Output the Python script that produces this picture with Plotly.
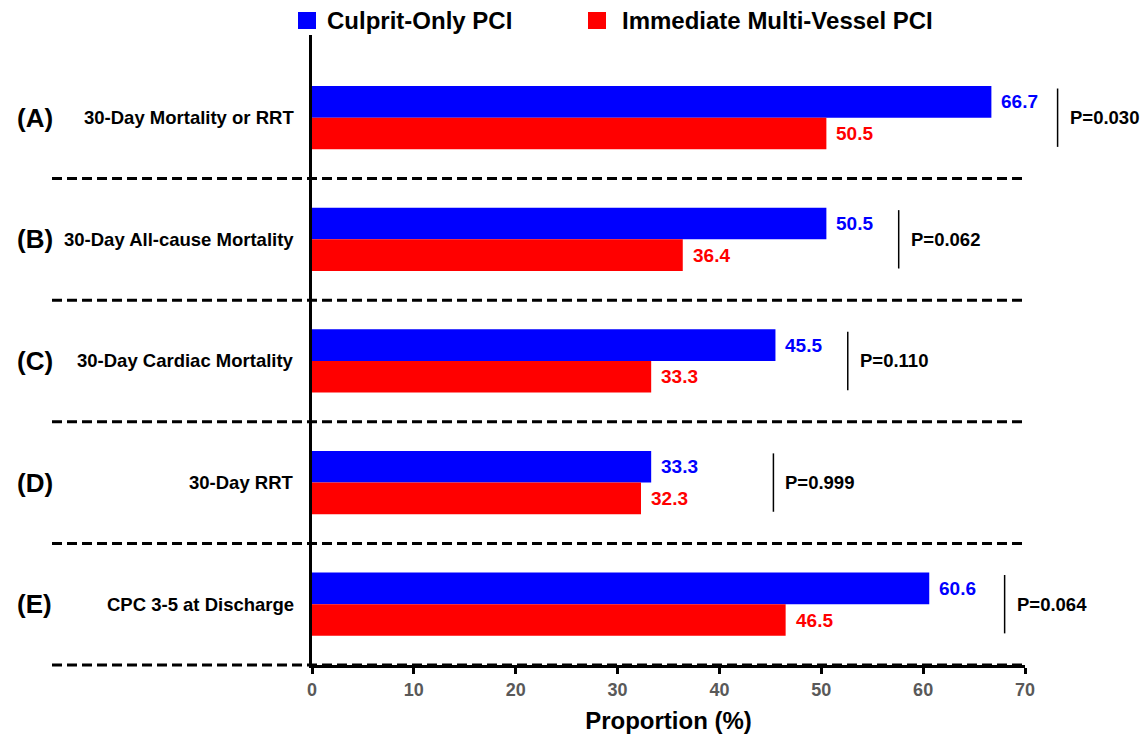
import plotly.graph_objects as go

# ---- data ----
letters = ["(A)", "(B)", "(C)", "(D)", "(E)"]
categories = ["30-Day Mortality or RRT", "30-Day All-cause Mortality",
              "30-Day Cardiac Mortality", "30-Day RRT", "CPC 3-5 at Discharge"]
culprit_only = [66.7, 50.5, 45.5, 33.3, 60.6]
multi_vessel = [50.5, 36.4, 33.3, 32.3, 46.5]
p_labels = ["P=0.030", "P=0.062", "P=0.110", "P=0.999", "P=0.064"]
p_bracket_x = [73.2, 57.6, 52.6, 45.3, 68.0]
series_names = ["Culprit-Only PCI", "Immediate Multi-Vessel PCI"]
x_ticks = [0, 10, 20, 30, 40, 50, 60, 70]

BLUE = "#0000FF"
RED = "#FF0000"
FONT = "Arial, Liberation Sans, sans-serif"

n = len(categories)
pos = [n - 1 - i for i in range(n)]  # A at top
BAR_W = 0.26
XMIN, XMAX = 0, 70
YMIN, YMAX = -0.5, 4.68

# figure pixel geometry (for paper conversions of decorations)
ML, MR, MT, MB = 312, 119, 35, 74
W, H = 1144, 739
PW, PH = W - ML - MR, H - MT - MB


def px_to_paper_x(px):
    return (px - ML) / PW


def px_to_paper_y(py):
    return (H - MB - py) / PH


def y_to_paper(yv):
    return (yv - YMIN) / (YMAX - YMIN)


def x_to_paper(xv):
    return (xv - XMIN) / (XMAX - XMIN)


fig = go.Figure()
fig.add_trace(go.Bar(
    y=pos, x=culprit_only, orientation="h", name=series_names[0],
    marker=dict(color=BLUE, line=dict(width=0)), width=BAR_W, offset=0,
    showlegend=False,
))
fig.add_trace(go.Bar(
    y=pos, x=multi_vessel, orientation="h", name=series_names[1],
    marker=dict(color=RED, line=dict(width=0)), width=BAR_W, offset=-BAR_W,
    showlegend=False,
))

shapes = []
annotations = []

# dashed separators
for p in pos:
    yp = y_to_paper(p - 0.5)
    shapes.append(dict(type="line", xref="paper", yref="paper",
                       x0=px_to_paper_x(52), x1=1.0, y0=yp, y1=yp,
                       line=dict(color="black", width=3, dash="10px,5px"),
                       layer="below"))

for i, p in enumerate(pos):
    # left labels
    annotations.append(dict(xref="paper", yref="y", x=px_to_paper_x(15), y=p,
                            text="<b>%s</b>" % letters[i], showarrow=False,
                            xanchor="left", yanchor="middle",
                            font=dict(family=FONT, size=26, color="black")))
    annotations.append(dict(xref="paper", yref="y", x=px_to_paper_x(296), y=p,
                            text="<b>%s</b>" % categories[i], showarrow=False,
                            xanchor="right", yanchor="middle",
                            font=dict(family=FONT, size=18.5, color="black")))
    # value labels
    annotations.append(dict(xref="x", yref="y", x=culprit_only[i], y=p + BAR_W / 2,
                            text="<b>%.1f</b>" % culprit_only[i], showarrow=False,
                            xanchor="left", yanchor="middle", xshift=8,
                            font=dict(family=FONT, size=19, color=BLUE)))
    annotations.append(dict(xref="x", yref="y", x=multi_vessel[i], y=p - BAR_W / 2,
                            text="<b>%.1f</b>" % multi_vessel[i], showarrow=False,
                            xanchor="left", yanchor="middle", xshift=8,
                            font=dict(family=FONT, size=19, color=RED)))
    # p-value bracket
    xp = x_to_paper(p_bracket_x[i])
    shapes.append(dict(type="line", xref="paper", yref="paper",
                       x0=xp, x1=xp,
                       y0=y_to_paper(p - BAR_W + 0.02), y1=y_to_paper(p + BAR_W - 0.02),
                       line=dict(color="black", width=1.5)))
    annotations.append(dict(xref="paper", yref="paper", x=xp, y=y_to_paper(p),
                            text="<b>%s</b>" % p_labels[i], showarrow=False,
                            xanchor="left", yanchor="middle", xshift=10,
                            font=dict(family=FONT, size=18.5, color="black")))

# manual legend
legend_items = [(series_names[0], BLUE, 298, 328), (series_names[1], RED, 588, 623)]
for name, col, sq_x, tx in legend_items:
    shapes.append(dict(type="rect", xref="paper", yref="paper",
                       x0=px_to_paper_x(sq_x), x1=px_to_paper_x(sq_x + 18),
                       y0=px_to_paper_y(29), y1=px_to_paper_y(12),
                       fillcolor=col, line=dict(width=0)))
    annotations.append(dict(xref="paper", yref="paper", x=px_to_paper_x(tx - 3),
                            y=px_to_paper_y(20.5), text="<b>%s</b>" % name,
                            showarrow=False, xanchor="left", yanchor="middle",
                            font=dict(family=FONT, size=24, color="black")))

fig.update_layout(
    width=W, height=H,
    margin=dict(l=ML, r=MR, t=MT, b=MB, pad=0),
    paper_bgcolor="white", plot_bgcolor="white",
    barmode="overlay",
    shapes=shapes, annotations=annotations,
    showlegend=False,
    font=dict(family=FONT),
)
fig.update_xaxes(
    range=[XMIN, XMAX], tickvals=x_ticks, ticktext=[str(t) for t in x_ticks],
    showline=True, linecolor="black", linewidth=3,
    ticks="outside", ticklen=6, tickwidth=3, tickcolor="black",
    tickfont=dict(family=FONT, size=18, color="#595959", weight="bold"),
    showgrid=False, zeroline=False,
    title=dict(text="<b>Proportion (%)</b>", standoff=14,
               font=dict(family=FONT, size=24, color="black")),
    automargin=False,
)
fig.update_yaxes(
    range=[YMIN, YMAX], showline=True, linecolor="black", linewidth=3,
    showticklabels=False, ticks="", showgrid=False, zeroline=False,
    automargin=False,
)

fig.write_html("out.html")
